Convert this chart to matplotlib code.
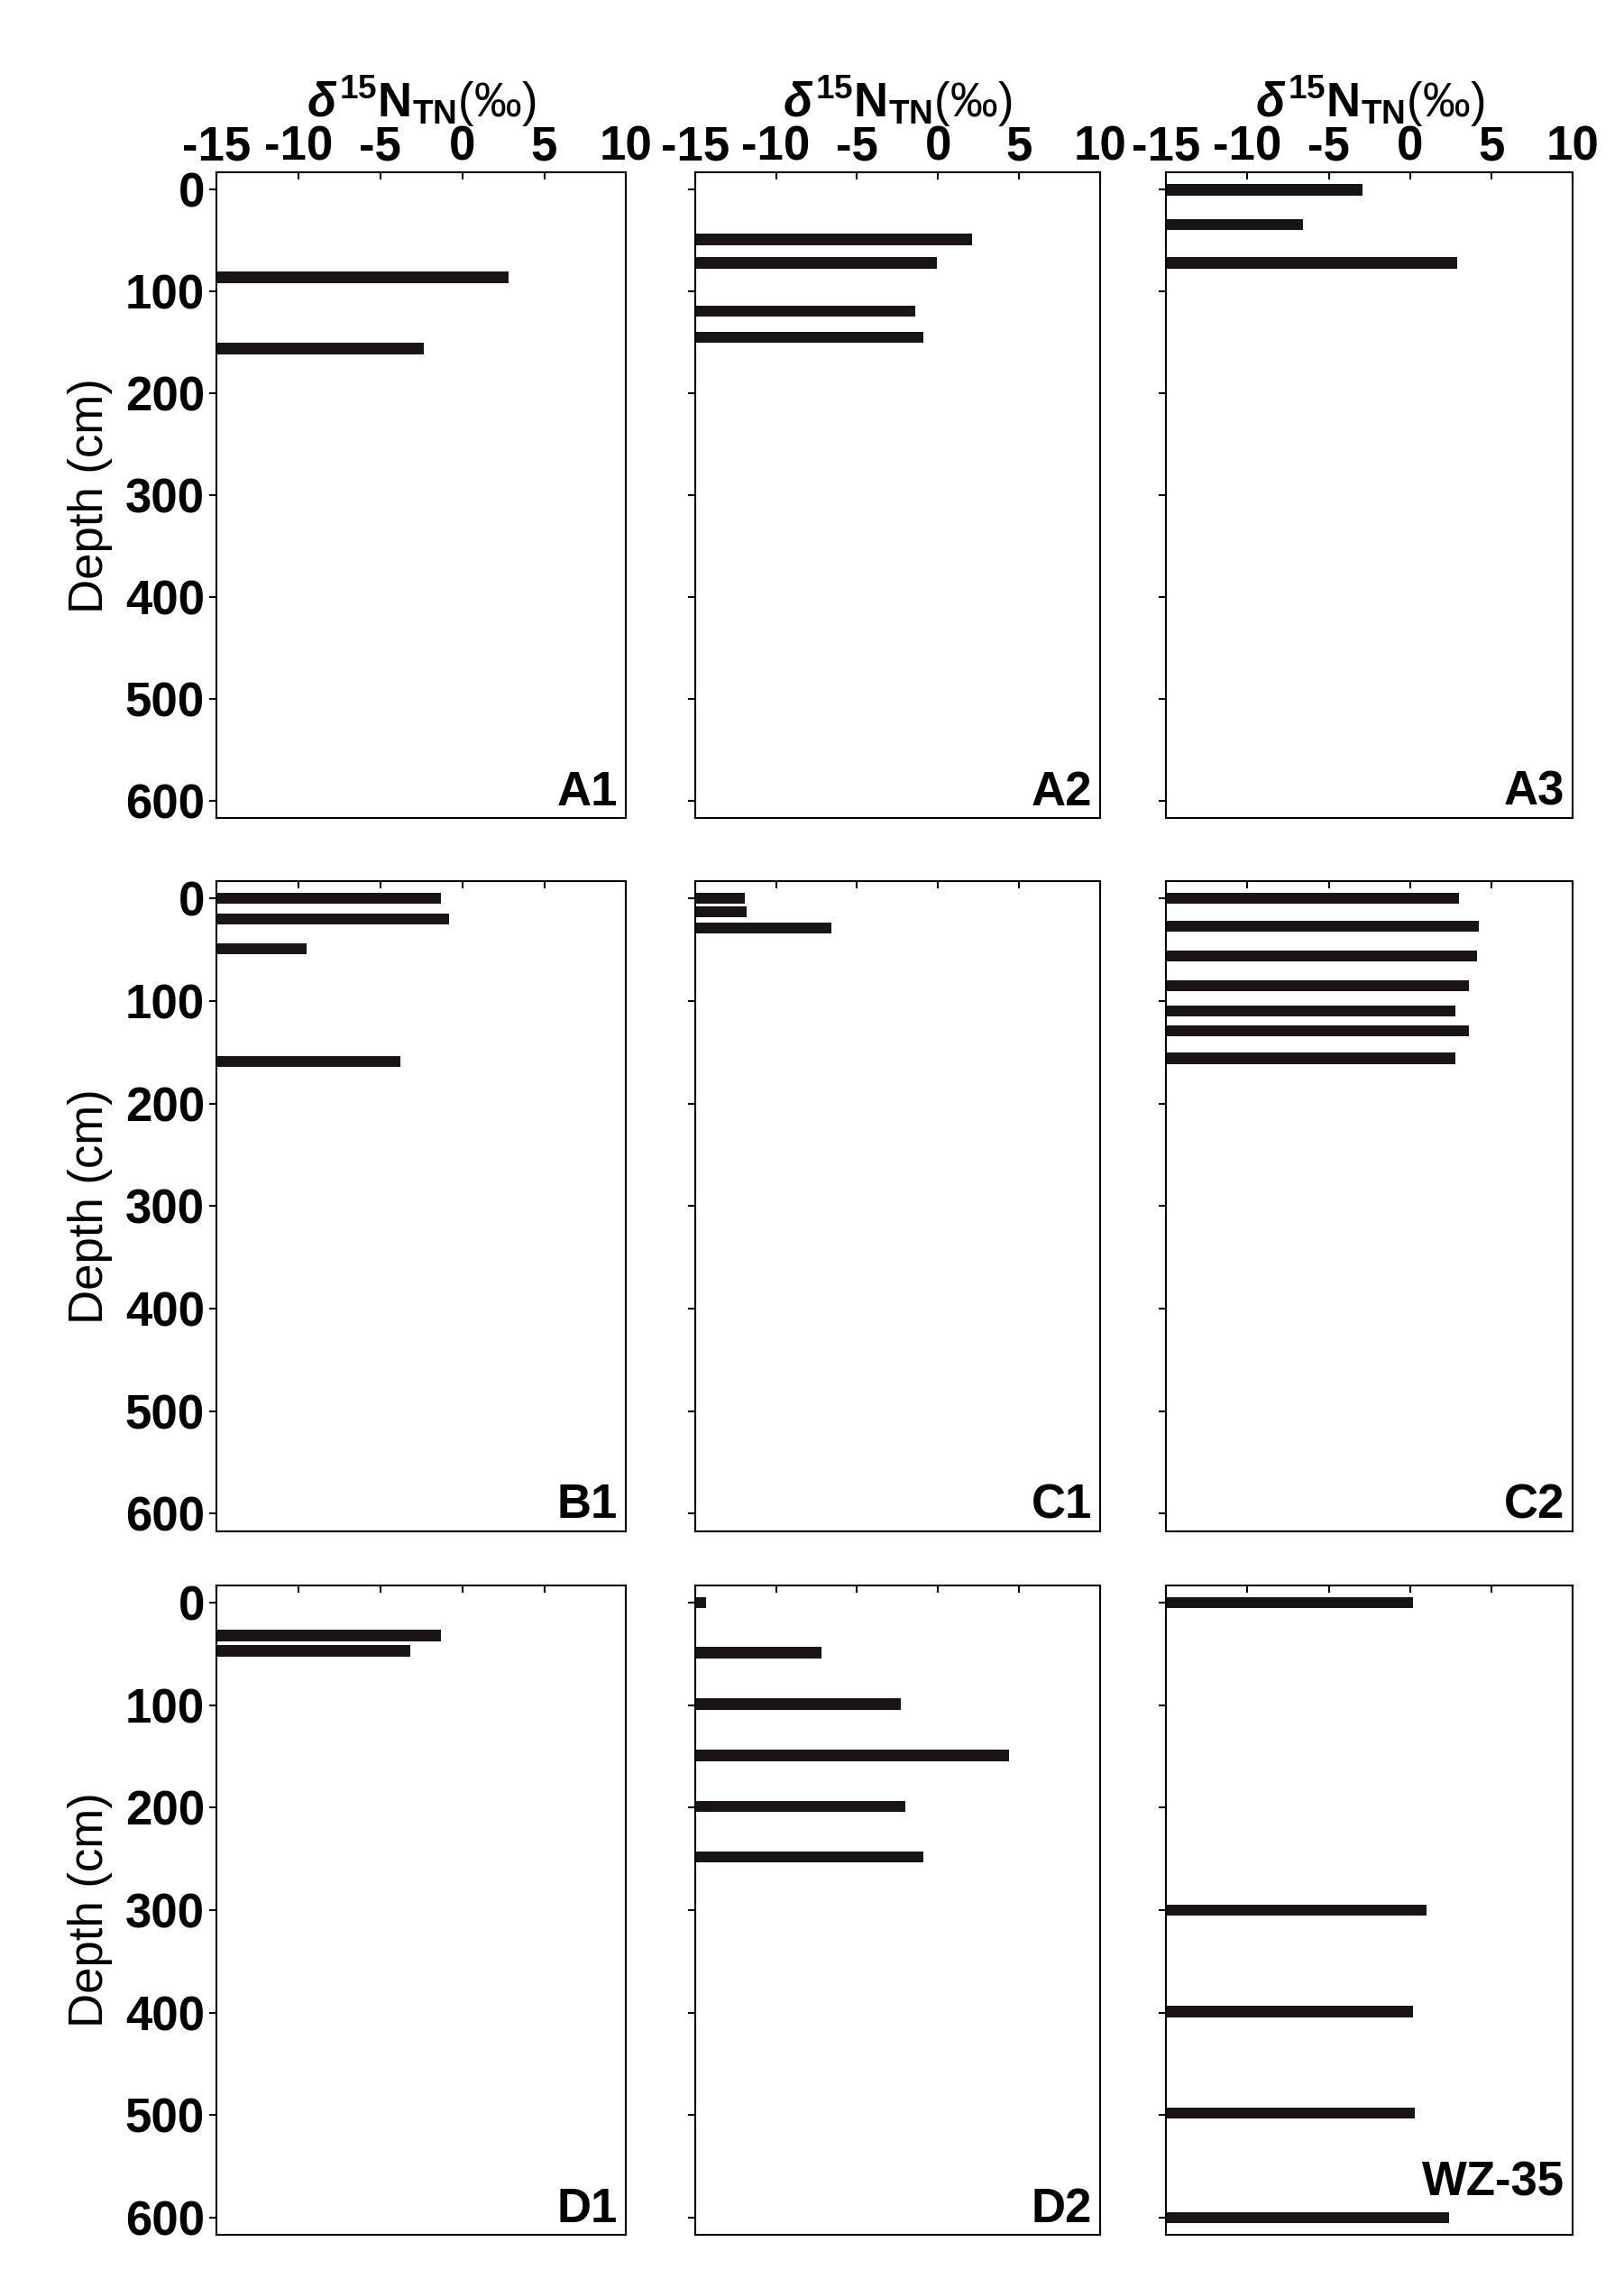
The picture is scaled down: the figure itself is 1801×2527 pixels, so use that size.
import matplotlib.pyplot as plt

plt.rcParams['font.family'] = ['Liberation Sans', 'DejaVu Sans']
plt.rcParams['font.weight'] = 'bold'
plt.rcParams['axes.unicode_minus'] = False
plt.rcParams['mathtext.fontset'] = 'custom'
plt.rcParams['mathtext.rm'] = 'Liberation Sans:bold'
plt.rcParams['mathtext.it'] = 'Liberation Sans:italic:bold'

# site -> (depths cm, delta15N values)
A1_depth = [86, 156]
A1_val = [2.8, -2.35]
A2_depth = [49, 72, 119, 145]
A2_val = [2.1, -0.1, -1.4, -0.9]
A3_depth = [0, 34, 72]
A3_val = [-2.9, -6.6, 2.9]
B1_depth = [0, 20, 49, 159]
B1_val = [-1.3, -0.8, -9.5, -3.8]
C1_depth = [0, 13, 29]
C1_val = [-11.9, -11.8, -6.6]
C2_depth = [0, 27, 56, 85, 110, 129, 156]
C2_val = [3.0, 4.2, 4.1, 3.6, 2.8, 3.6, 2.8]
D1_depth = [32, 47]
D1_val = [-1.3, -3.2]
D2_depth = [0, 49, 99, 149, 199, 248]
D2_val = [-14.3, -7.2, -2.3, 4.4, -2.0, -0.9]
WZ_depth = [0, 300, 399, 498, 600]
WZ_val = [0.2, 1.0, 0.2, 0.3, 2.4]

panels = [
    ("A1", A1_depth, A1_val), ("A2", A2_depth, A2_val), ("A3", A3_depth, A3_val),
    ("B1", B1_depth, B1_val), ("C1", C1_depth, C1_val), ("C2", C2_depth, C2_val),
    ("D1", D1_depth, D1_val), ("D2", D2_depth, D2_val), ("WZ-35", WZ_depth, WZ_val),
]

W, H = 1110, 1560
cols = [(148, 428), (475, 752), (797, 1075)]
rows = [(118, 560), (603, 1048), (1085, 1530)]

fig = plt.figure(figsize=(18.01, 25.27), dpi=100)
for k, (name, depth, val) in enumerate(panels):
    r, c = divmod(k, 3)
    x0, x1 = cols[c]
    y0, y1 = rows[r]
    ax = fig.add_axes([x0 / W, 1 - y1 / H, (x1 - x0) / W, (y1 - y0) / H])
    xmin = -15
    ax.barh(depth, [v - xmin for v in val], left=xmin, height=11, color='#1a1414')
    ax.set_xlim(-15, 10)
    ax.set_ylim(617, -17)
    ax.set_xticks([-15, -10, -5, 0, 5, 10])
    ax.set_yticks([0, 100, 200, 300, 400, 500, 600])
    ax.xaxis.tick_top()
    ax.tick_params(axis='x', direction='in', length=6, width=1.5, labelsize=38, pad=2)
    ax.tick_params(axis='y', direction='out', length=6, width=1.5, labelsize=38)
    if r != 0:
        ax.set_xticklabels([])
    else:
        ax.xaxis.set_label_position('top')
        ax.set_xlabel(r'$\delta^{15}\mathrm{N}_{\mathrm{TN}}$(‰)', fontsize=38, labelpad=6)
    if c != 0:
        ax.set_yticklabels([])
    else:
        ax.set_ylabel('Depth (cm)', fontsize=38, labelpad=10)
    for s in ax.spines.values():
        s.set_linewidth(1.5)
    ty = 0.045 if name == "WZ-35" else 0.005
    ax.text(0.98, ty, name, transform=ax.transAxes, ha='right', va='bottom', fontsize=38)

fig.savefig('out.png', dpi=100)
